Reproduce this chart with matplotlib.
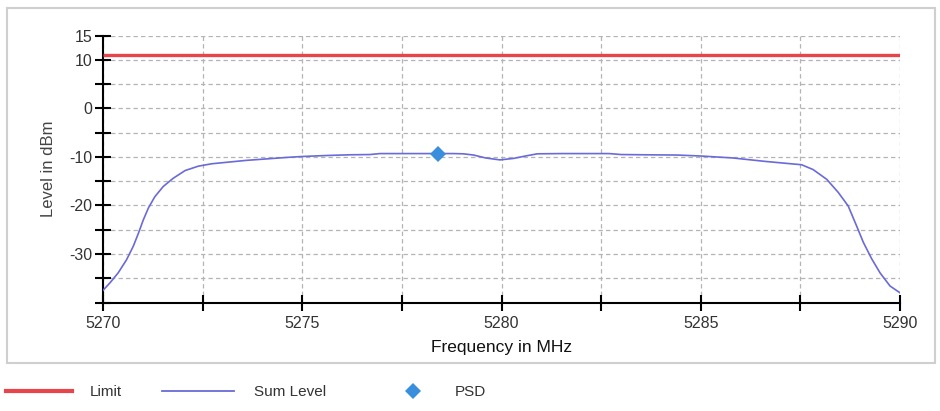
import matplotlib
matplotlib.use("Agg")
import matplotlib.pyplot as plt
from matplotlib.lines import Line2D
from matplotlib.patches import Rectangle
from matplotlib.ticker import FixedLocator, FuncFormatter

plt.rcParams['font.family'] = ['Liberation Sans', 'DejaVu Sans']

# Measured spectrum (sum level) over the channel
freq_mhz = [5270.0, 5270.18, 5270.38, 5270.59, 5270.76, 5270.89, 5271.01, 5271.14,
            5271.3, 5271.51, 5271.76, 5272.06, 5272.39, 5272.73, 5273.1, 5273.6,
            5274.1, 5274.6, 5275.0, 5275.6, 5276.2, 5276.7, 5276.95, 5277.5,
            5278.0, 5278.4, 5278.8, 5279.04, 5279.3, 5279.6, 5279.96, 5280.3,
            5280.6, 5280.9, 5281.5, 5282.0, 5282.7, 5283.0, 5283.6, 5284.4,
            5285.0, 5285.8, 5286.6, 5287.26, 5287.53, 5287.82, 5288.16, 5288.45,
            5288.7, 5288.91, 5289.08, 5289.29, 5289.5, 5289.75, 5290.0]
sum_level_dbm = [-37.5, -35.9, -33.9, -31.2, -28.4, -25.7, -23.0, -20.5,
                 -18.2, -16.1, -14.4, -12.8, -11.9, -11.4, -11.1, -10.7,
                 -10.4, -10.1, -9.9, -9.7, -9.55, -9.5, -9.3, -9.3,
                 -9.3, -9.3, -9.3, -9.35, -9.6, -10.2, -10.6, -10.3,
                 -9.8, -9.35, -9.3, -9.3, -9.3, -9.5, -9.55, -9.6,
                 -9.8, -10.2, -10.9, -11.4, -11.6, -12.6, -14.6, -17.3,
                 -20.1, -24.2, -27.6, -31.0, -33.9, -36.6, -38.0]

# Limit line and PSD marker
limit_freq = [5270.0, 5290.0]
limit_dbm = [11.0, 11.0]
psd_freq = [5278.4]
psd_dbm = [-9.3]

# Axis ticks
y_ticks = [-40, -35, -30, -25, -20, -15, -10, -5, 0, 5, 10, 15]
y_labels = {15: "15", 10: "10", 0: "0", -10: "-10", -20: "-20", -30: "-30"}
x_ticks = [5270, 5272.5, 5275, 5277.5, 5280, 5282.5, 5285, 5287.5, 5290]
x_labels = {5270: "5270", 5275: "5275", 5280: "5280", 5285: "5285", 5290: "5290"}

series_names = ["Limit", "Sum Level", "PSD"]

RED = "#e8454b"
VIOLET = "#6a6ad8"
BLUE = "#3a8fdd"
TXT = "#333333"

fig = plt.figure(figsize=(9.4, 4.11), dpi=100)

# Outer frame around the chart area
fig.patches.append(Rectangle((7 / 940, 1 - 363 / 411), (935 - 7) / 940, (363 - 8) / 411,
                             transform=fig.transFigure, fill=False,
                             edgecolor="#cfcfcf", linewidth=1.5))

ax = fig.add_axes([103 / 940, 1 - 302.5 / 411, (900 - 103) / 940, (302.5 - 35.7) / 411])

ax.plot(limit_freq, limit_dbm, color=RED, linewidth=2.4, solid_capstyle="butt", zorder=3)
ax.plot(freq_mhz, sum_level_dbm, color=VIOLET, linewidth=1.2, zorder=3,
        solid_joinstyle="round")
ax.plot(psd_freq, psd_dbm, linestyle="none", marker="D", markersize=8.5,
        color=BLUE, markeredgewidth=0, zorder=4)

ax.set_xlim(5270, 5290)
ax.set_ylim(-40, 15)

ax.xaxis.set_major_locator(FixedLocator(x_ticks))
ax.yaxis.set_major_locator(FixedLocator(y_ticks))
ax.xaxis.set_major_formatter(FuncFormatter(lambda v, p: x_labels.get(round(v, 1), "")))
ax.yaxis.set_major_formatter(FuncFormatter(lambda v, p: y_labels.get(int(round(v)), "")))

ax.grid(True, color="#b4b4b4", linestyle=(0, (3.5, 2.5)), linewidth=0.9)
ax.set_axisbelow(True)

for side in ("top", "right"):
    ax.spines[side].set_visible(False)
for side in ("left", "bottom"):
    ax.spines[side].set_linewidth(1.5)
    ax.spines[side].set_color("black")

ax.tick_params(axis="y", direction="inout", length=11, width=1.5, color="black",
               pad=2, labelsize=11.5, labelcolor=TXT)
ax.tick_params(axis="x", direction="inout", length=12, width=1.5, color="black",
               pad=4, labelsize=11.5, labelcolor=TXT)

ax.set_xlabel("Frequency in MHz", fontsize=12.5, color="#111111", labelpad=6)
ax.set_ylabel("Level in dBm", fontsize=12, color="#444444", labelpad=10)

# Legend row below the frame: one entry per series, each placed on its own
handles = [
    Line2D([], [], color=RED, linewidth=3),
    Line2D([], [], color=VIOLET, linewidth=1.3),
    Line2D([], [], color=BLUE, marker="D", markersize=8.5, linestyle="none", markeredgewidth=0),
]
entry_x = [6, 162, 380]
entry_pad = [1.2, 1.35, 0.6]
entry_len = [4.3, 4.7, 4.3]
for h, name, x0, pad, hl in zip(handles, series_names, entry_x, entry_pad, entry_len):
    leg = fig.legend([h], [name], frameon=False, loc="center left",
                     bbox_to_anchor=(x0 / 940, 1 - 392 / 411),
                     fontsize=11, handlelength=hl, handletextpad=pad,
                     borderaxespad=0, borderpad=0, labelcolor=TXT)

fig.savefig("out.png", dpi=100)
